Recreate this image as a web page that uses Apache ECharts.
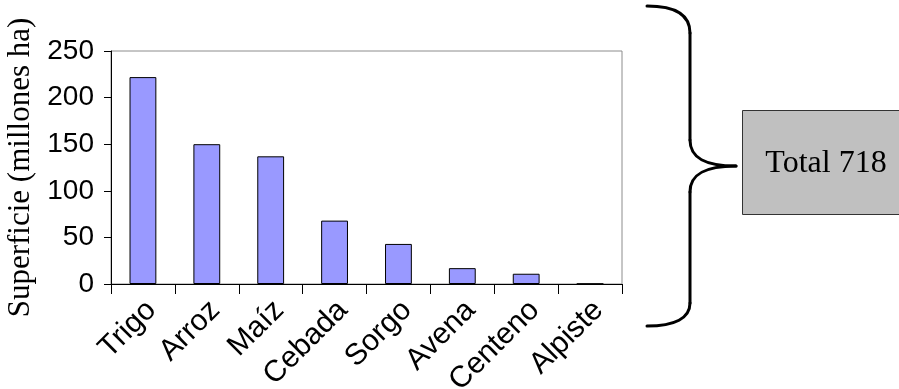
<!DOCTYPE html>
<html>
<head>
<meta charset="utf-8">
<script src="https://cdn.jsdelivr.net/npm/echarts@6/dist/echarts.min.js"></script>
<style>
  html, body { margin: 0; padding: 0; background: #ffffff; }
  #chart { width: 899px; height: 389px; }
</style>
</head>
<body>
<div id="chart"></div>
<script>
// Superficie cultivada por cereal (millones de hectáreas)
const cereales = ['Trigo', 'Arroz', 'Maíz', 'Cebada', 'Sorgo', 'Avena', 'Centeno', 'Alpiste'];
const superficie = [222, 150, 137, 68, 43, 17, 11, 0.3];
const ticksY = [0, 50, 100, 150, 200, 250];
const totalTexto = 'Total 718';

const chart = echarts.init(document.getElementById('chart'), null, { renderer: 'canvas' });

const sans = '"Liberation Sans", Arial, sans-serif';
const serif = '"Liberation Serif", "Times New Roman", serif';

// Curly brace built from curves and straight segments
const braceStyle = { fill: 'none', stroke: '#000', lineWidth: 3, lineCap: 'round' };
function curve(x1, y1, cpx1, cpy1, cpx2, cpy2, x2, y2) {
  return { type: 'bezierCurve', shape: { x1, y1, cpx1, cpy1, cpx2, cpy2, x2, y2 }, style: braceStyle };
}
function seg(x1, y1, x2, y2) {
  return { type: 'line', shape: { x1, y1, x2, y2 }, style: braceStyle };
}
const brace = [
  curve(647, 6, 675, 6, 690, 14, 690, 33),
  seg(690, 33, 690, 140),
  curve(690, 140, 690, 158, 705, 166, 736, 166),
  curve(736, 166, 705, 166, 690, 174, 690, 192),
  seg(690, 192, 690, 303),
  curve(690, 303, 690, 318, 675, 326, 647, 326)
];

chart.setOption({
  animation: false,
  backgroundColor: '#ffffff',
  grid: {
    left: 111, right: 277, top: 51, bottom: 105,
    outerBoundsMode: 'none',
    containLabel: false,
    show: true, borderColor: '#8c8c8c', borderWidth: 1,
    backgroundColor: 'transparent'
  },
  xAxis: {
    type: 'category',
    data: cereales,
    boundaryGap: true,
    axisLine: { show: true, lineStyle: { color: '#000', width: 1 } },
    axisTick: { show: true, inside: false, length: 10, alignWithLabel: false, lineStyle: { color: '#000' } },
    axisLabel: {
      rotate: 45, interval: 0, margin: 30,
      padding: [0, -12, 0, 0],
      fontFamily: sans, fontSize: 30, color: '#000'
    },
    splitLine: { show: false }
  },
  yAxis: {
    type: 'value',
    min: ticksY[0], max: ticksY[ticksY.length - 1], interval: 50,
    name: 'Superficie (millones ha)',
    nameLocation: 'middle',
    nameGap: 71,
    nameRotate: 90,
    nameTextStyle: { fontFamily: serif, fontSize: 31, color: '#000' },
    axisLine: { show: true, lineStyle: { color: '#000', width: 1 } },
    axisTick: { show: true, inside: false, length: 7, lineStyle: { color: '#000' } },
    axisLabel: { margin: 17, fontFamily: sans, fontSize: 28, color: '#000' },
    splitLine: { show: false }
  },
  series: [{
    type: 'bar',
    data: superficie,
    barWidth: '42%',
    itemStyle: { color: '#9999ff', borderColor: '#000', borderWidth: 1 }
  }],
  graphic: brace.concat([
    {
      type: 'rect',
      shape: { x: 742.5, y: 110.5, width: 170, height: 104 },
      style: { fill: '#c0c0c0', stroke: '#333', lineWidth: 1 }
    },
    {
      type: 'text',
      x: 826, y: 164,
      style: {
        text: totalTexto,
        fontFamily: serif, fontSize: 32, fill: '#000',
        align: 'center', verticalAlign: 'middle'
      }
    }
  ])
});
</script>
</body>
</html>
